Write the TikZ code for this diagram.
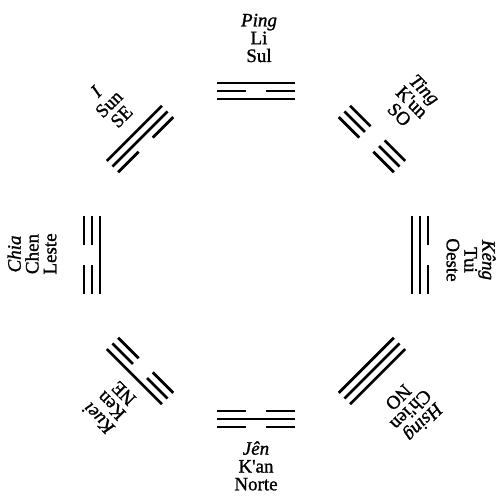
\documentclass[tikz,border=0pt]{standalone}
\usepackage{fontspec}
\setmainfont{Liberation Serif}
\newfontfamily\lblfont{Liberation Serif}[FakeBold=1.2, ItalicFeatures={FakeBold=1.2}]
\tikzset{
  yao/.style={line width=2.7pt, line cap=butt},
  lbl/.style={align=center, font=\lblfont\fontsize{19}{17.8}\selectfont, inner sep=0pt},
}
\newcommand\trigramat[2]{% #1 = outward angle, #2 = lines from inner (bottom) to outer (top)
  \begin{scope}[rotate=#1-90]
    \foreach \v [count=\k from -1] in {#2} {
      \pgfmathsetmacro\yy{164+8*\k}
      \ifnum\v=1
        \draw[yao] (-39,\yy) -- (39,\yy);
      \else
        \draw[yao] (-39,\yy) -- (-10,\yy);
        \draw[yao] (10,\yy) -- (39,\yy);
      \fi
    }
  \end{scope}}
\begin{document}
\begin{tikzpicture}[x=1pt,y=1pt]
\useasboundingbox (-256,-241) rectangle (243,255);
% trigrams (Later Heaven arrangement)
\trigramat{90}{1,0,1}    % Li
\trigramat{45}{0,0,0}    % K'un
\trigramat{0}{1,1,0}     % Tui
\trigramat{-45}{1,1,1}   % Ch'ien
\trigramat{-90}{0,1,0}   % K'an
\trigramat{-135}{0,0,1}  % Ken
\trigramat{180}{1,0,0}   % Chen
\trigramat{135}{0,1,1}   % Sun
% labels
\node[lbl] (s) at (3,217) {\textit{Ping}\\Li\\Sul};
\node[lbl, rotate=-45] (sw) at (156,153) {\textit{Ting}\\K'un\\SO};
\node[lbl, rotate=-90] (w) at (215,-5) {\textit{Kêng}\\Tui\\Oeste};
\node[lbl, rotate=-135] (nw) at (155,-155) {\textit{Hsing}\\Ch'ien\\NO};
\node[lbl] (n) at (0,-211) {\textit{Jên}\\K'an\\Norte};
\node[lbl, rotate=135] (ne) at (-145,-151) {\textit{Kuei}\\Ken\\NE};
\node[lbl, rotate=90] (e) at (-224,1) {\textit{Chia}\\Chen\\Leste};
\node[lbl, rotate=45] (se) at (-147,151) {\textit{I}\\Sun\\SE};
\end{tikzpicture}
\end{document}
